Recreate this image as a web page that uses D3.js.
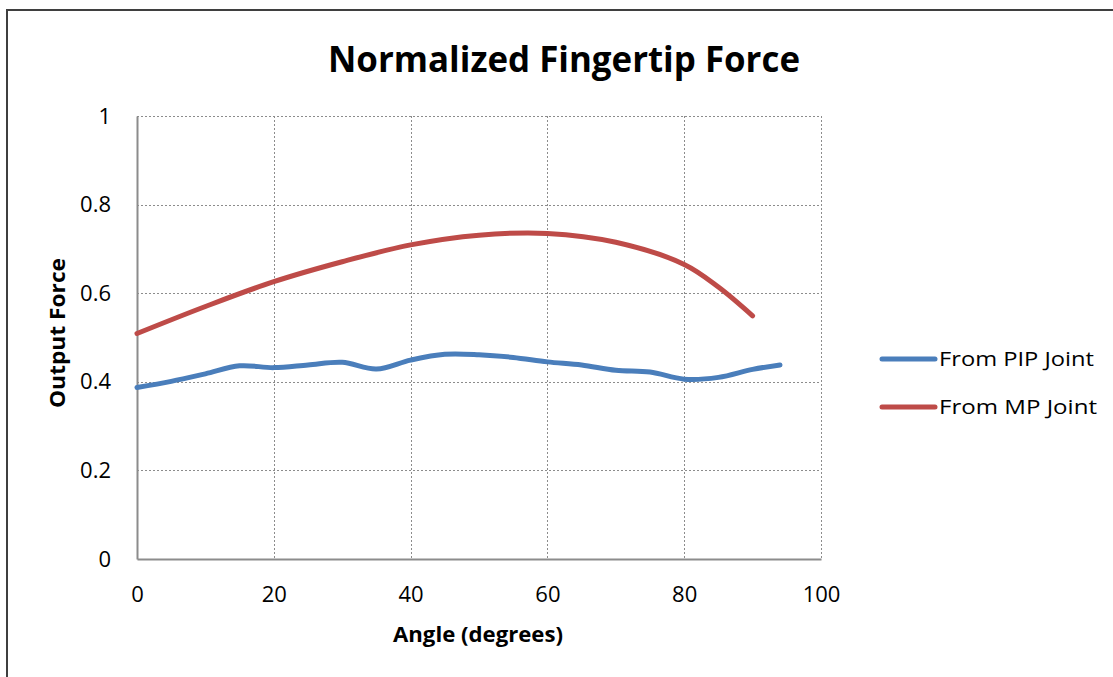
<!DOCTYPE html>
<html>
<head>
<meta charset="utf-8">
<script src="https://cdn.jsdelivr.net/npm/d3@7/dist/d3.min.js"></script>
<style>
  html, body { margin: 0; padding: 0; background: #fff; }
  svg { display: block; }
  text { font-family: "Open Sans", "Noto Sans", sans-serif; fill: #000; }
</style>
</head>
<body>
<svg id="chart" width="1113" height="677"></svg>
<script>
// Angle (degrees) samples for each series
const pipAngles = [0, 5, 10, 15, 20, 25, 30, 35, 40, 45, 50, 55, 60, 65, 70, 75, 80, 85, 90, 94];
const pipForce  = [0.387, 0.401, 0.418, 0.436, 0.432, 0.438, 0.444, 0.429, 0.449, 0.462, 0.461, 0.455, 0.445, 0.438, 0.426, 0.422, 0.406, 0.410, 0.428, 0.438];

const mpAngles = [0, 10, 20, 30, 40, 50, 60, 70, 80, 85, 90];
const mpForce  = [0.509, 0.570, 0.626, 0.671, 0.709, 0.731, 0.735, 0.715, 0.665, 0.614, 0.549];

const xTicks = [0, 20, 40, 60, 80, 100];
const yTicks = [0, 0.2, 0.4, 0.6, 0.8, 1];
const yTickLabels = ["0", "0.2", "0.4", "0.6", "0.8", "1"];

const seriesNames = ["From PIP Joint", "From MP Joint"];
const seriesColors = ["#4a7ebb", "#be4b48"];

const svg = d3.select("#chart");

// Outer chart frame
svg.append("rect")
  .attr("x", 7).attr("y", 10)
  .attr("width", 1120).attr("height", 700)
  .attr("fill", "none").attr("stroke", "#3f3f3f").attr("stroke-width", 2);

const plot = { left: 137, right: 821, top: 116, bottom: 559 };

const x = d3.scaleLinear().domain([0, 100]).range([plot.left, plot.right]);
const y = d3.scaleLinear().domain([0, 1]).range([plot.bottom, plot.top]);

// Dotted gridlines
const grid = svg.append("g").attr("stroke", "#8c8c8c").attr("stroke-width", 1)
  .attr("stroke-dasharray", "2,2").attr("shape-rendering", "crispEdges");
grid.selectAll("line.v").data(xTicks.filter(d => d > 0)).join("line")
  .attr("x1", d => Math.round(x(d)) + 0.5).attr("x2", d => Math.round(x(d)) + 0.5)
  .attr("y1", plot.top).attr("y2", plot.bottom);
grid.selectAll("line.h").data(yTicks.filter(d => d > 0)).join("line")
  .attr("x1", plot.left).attr("x2", plot.right)
  .attr("y1", d => Math.round(y(d)) + 0.5).attr("y2", d => Math.round(y(d)) + 0.5);

// Axes
const xAxis = d3.axisBottom(x).tickValues(xTicks).tickSize(0).tickPadding(27)
  .tickFormat(d3.format("d"));
const yAxis = d3.axisLeft(y).tickValues(yTicks).tickSize(0).tickPadding(26)
  .tickFormat((d, i) => yTickLabels[i]);

const gx = svg.append("g").attr("transform", `translate(0,${plot.bottom})`).call(xAxis);
const gy = svg.append("g").attr("transform", `translate(${plot.left},0)`).call(yAxis);
[gx, gy].forEach(g => {
  g.attr("font-size", null).attr("font-family", null);
  g.select(".domain").attr("stroke", "#8c8c8c").attr("stroke-width", 2);
  g.selectAll("text")
    .style("font-size", "22px")
    .style("font-family", "'Open Sans', sans-serif")
    .attr("fill", "#000");
});

// Series lines
const line = d3.line().curve(d3.curveCatmullRom.alpha(0.5))
  .x(d => x(d[0])).y(d => y(d[1]));

const series = [
  d3.zip(pipAngles, pipForce),
  d3.zip(mpAngles, mpForce)
];

svg.selectAll("path.series").data(series).join("path")
  .attr("class", "series")
  .attr("d", line)
  .attr("fill", "none")
  .attr("stroke", (d, i) => seriesColors[i])
  .attr("stroke-width", 5)
  .attr("stroke-linecap", "round")
  .attr("stroke-linejoin", "round");

// Title
svg.append("text")
  .attr("x", 564).attr("y", 72)
  .attr("text-anchor", "middle")
  .attr("font-size", 36).attr("font-weight", "bold")
  .attr("textLength", 472).attr("lengthAdjust", "spacingAndGlyphs")
  .text("Normalized Fingertip Force");

// Axis titles
svg.append("text")
  .attr("x", 478).attr("y", 642)
  .attr("text-anchor", "middle")
  .attr("font-size", 21).attr("font-weight", "bold")
  .attr("textLength", 170).attr("lengthAdjust", "spacingAndGlyphs")
  .text("Angle (degrees)");

svg.append("text")
  .attr("transform", "translate(65,333) rotate(-90)")
  .attr("text-anchor", "middle")
  .attr("font-size", 21).attr("font-weight", "bold")
  .attr("textLength", 150).attr("lengthAdjust", "spacingAndGlyphs")
  .text("Output Force");

// Legend
const legend = svg.append("g");
const legendY = [359, 407];
seriesNames.forEach((name, i) => {
  legend.append("line")
    .attr("x1", 882).attr("x2", 935)
    .attr("y1", legendY[i]).attr("y2", legendY[i])
    .attr("stroke", seriesColors[i]).attr("stroke-width", 5)
    .attr("stroke-linecap", "round");
  legend.append("text")
    .attr("x", 939).attr("y", legendY[i] + 7)
    .attr("font-size", 20)
    .attr("textLength", i === 0 ? 155 : 158).attr("lengthAdjust", "spacingAndGlyphs")
    .text(name);
});
</script>
</body>
</html>
